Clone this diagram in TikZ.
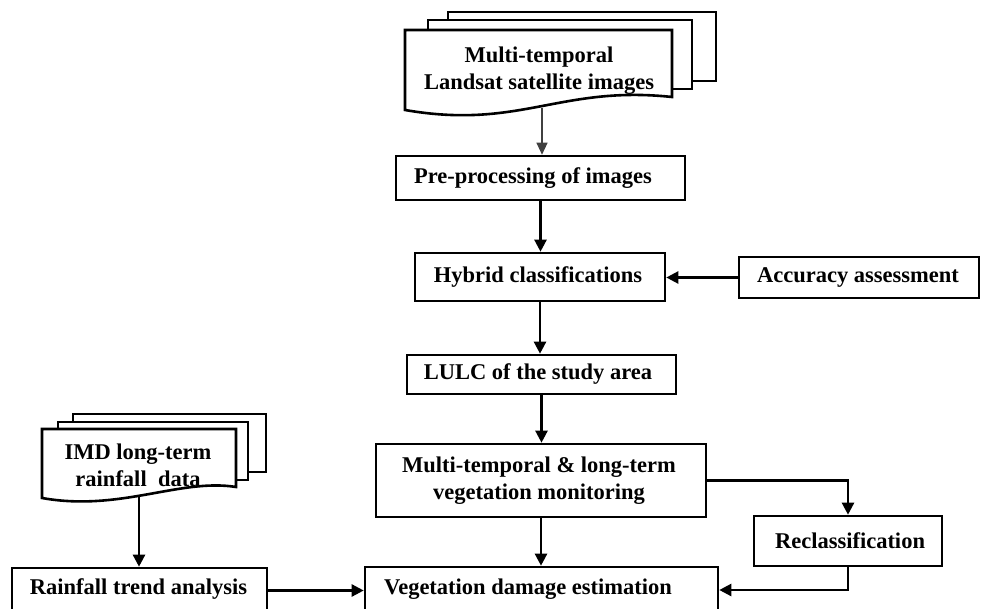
\documentclass[tikz,border=0pt]{standalone}
\usepackage{fontspec}
\setmainfont{Liberation Serif}
\usetikzlibrary{arrows.meta}
\begin{document}
\begin{tikzpicture}[x=1pt,y=-1pt,
  box/.style={draw, line width=2.6pt, rectangle, inner sep=0pt},
  txt/.style={font=\fontsize{22.5}{27}\selectfont\bfseries, align=center, inner sep=0pt},
  arr/.style={line width=2.4pt, -{Triangle[length=12pt,width=12pt]}},
  thinarr/.style={line width=1.2pt, draw=black!75, -{Triangle[length=12pt,width=11pt]}},
  sheet/.style={draw, line width=2.6pt, fill=white, line join=miter}]
\useasboundingbox (0,0) rectangle (981,609);
\clip (0,0) rectangle (981,609);

% Landsat multi-document
\draw[sheet] (448,12) rectangle (716,81);
\draw[sheet] (428,20) rectangle (692,89);
\draw[sheet] (405,30) -- (672,30) -- (672,97) .. controls (560,85) and (520,130) .. (405,110) -- cycle;
\node[txt] (lst) at (539,71) {Multi-temporal\\Landsat satellite images};
\coordinate (lsb) at (542,108);

% IMD multi-document
\draw[sheet] (73,414) rectangle (266,472);
\draw[sheet] (58,422) rectangle (248,480);
\draw[sheet] (42,429) -- (236,429) -- (236,487) .. controls (180,478) and (120,512) .. (42,498) -- cycle;
\node[txt] (imdt) at (138,465) {IMD long-term\\rainfall\ \ data};
\coordinate (imdb) at (139,496);

% Boxes
\node[box, minimum width=289pt, minimum height=44pt] (pre) at (540.5,178) {};
\node[txt] (pret) at (533,178) {Pre-processing of images};

\node[box, minimum width=250pt, minimum height=48pt] (hyb) at (540,277) {};
\node[txt] (hybt) at (538,277) {Hybrid classifications};

\node[box, minimum width=240pt, minimum height=41pt] (acc) at (859,277.5) {};
\node[txt] (acct) at (858,277.5) {Accuracy assessment};

\node[box, minimum width=269pt, minimum height=39pt] (lulc) at (541.5,374.5) {};
\node[txt] (lulct) at (538,374.5) {LULC of the study area};

\node[box, minimum width=330pt, minimum height=73pt] (multi) at (541,480.5) {};
\node[txt] (multit) at (539,480.5) {Multi-temporal \& long-term\\vegetation monitoring};

\node[box, minimum width=188pt, minimum height=50pt] (recl) at (848,541) {};
\node[txt] (reclt) at (850,541) {Reclassification};

\node[box, minimum width=353pt, minimum height=46pt] (veg) at (541.5,590) {};
\node[txt] (vegt) at (528,589) {Vegetation damage estimation};

\node[box, minimum width=255pt, minimum height=45pt] (rain) at (139.5,590.5) {};
\node[txt] (raint) at (138.5,589) {Rainfall trend analysis};

% Connectors
\draw[thinarr] (lsb) -- (lsb |- pre.north);
\draw[arr] (pre.south) -- (pre.south |- hyb.north);
\draw[arr] (acc.west) -- (acc.west -| hyb.east);
\draw[arr] (hyb.south) -- (hyb.south |- lulc.north);
\draw[arr] (lulc.south) -- (lulc.south |- multi.north);
\draw[arr] (multi.south) -- (multi.south |- veg.north);
\draw[arr] (multi.east) -| (recl.north);
\draw[arr] (recl.south) |- (veg.east);
\draw[arr] (imdb) -- (imdb |- rain.north);
\draw[arr] (rain.east) -- (rain.east -| veg.west);
\end{tikzpicture}
\end{document}
